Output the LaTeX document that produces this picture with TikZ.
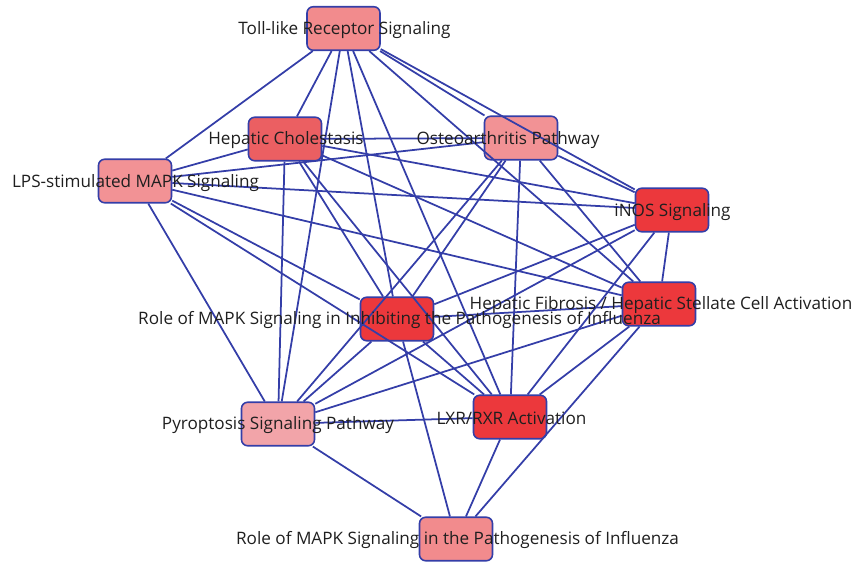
\documentclass[tikz,border=0pt]{standalone}
\usepackage{fontspec}
\setmainfont{Open Sans}

\definecolor{linkblue}{RGB}{52,62,168}
\definecolor{fillpink}{RGB}{242,139,141}
\definecolor{fillrose}{RGB}{242,146,149}
\definecolor{filllight}{RGB}{242,164,169}
\definecolor{fillmid}{RGB}{235,95,98}
\definecolor{fillred}{RGB}{236,56,60}

\begin{document}
\begin{tikzpicture}[x=0.02cm,y=-0.02cm]
		\useasboundingbox (0,0) rectangle (856,562);
		\begin{scope}[every node/.style={draw=linkblue,line width=0.9pt,rounded corners=3.5pt,
				minimum width=1.46cm,minimum height=0.87cm,inner sep=0pt}]
			\node[fill=fillpink]  (TLR) at (343.5,28.5) {};
			\node[fill=fillmid]   (HC)  at (285,139) {};
			\node[fill=fillrose]  (OA)  at (521,138) {};
			\node[fill=fillrose]  (LPS) at (135,181) {};
			\node[fill=fillred]   (NOS) at (672,210) {};
			\node[fill=fillred]   (HF)  at (659,304) {};
			\node[fill=fillred]   (RI)  at (397,319) {};
			\node[fill=filllight] (PY)  at (278,424) {};
			\node[fill=fillred]   (LXR) at (510,417) {};
			\node[fill=fillpink]  (RP)  at (456,539) {};
		\end{scope}
		\begin{scope}[every edge/.style={draw=linkblue,line width=1pt}]
			\path (TLR) edge (HC) edge (OA) edge (LPS) edge (NOS) edge (HF) edge (RI) edge (PY) edge (LXR);
			\path (HC) edge (OA) edge (LPS) edge (NOS) edge (HF) edge (RI) edge (PY) edge (LXR);
			\path (OA) edge (LPS) edge (NOS) edge (HF) edge (RI) edge (PY) edge (LXR);
			\path (LPS) edge (NOS) edge (HF) edge (RI) edge (PY) edge (LXR);
			\path (NOS) edge (HF) edge (RI) edge (PY) edge (LXR);
			\path (HF) edge (RI) edge (PY) edge (LXR) edge (RP);
			\path (RI) edge (PY) edge (LXR) edge (RP);
			\path (PY) edge (LXR) edge (RP);
			\path (LXR) edge (RP);
		\end{scope}
		\begin{scope}[every node/.style={text=black!88,inner sep=0pt,font=\fontsize{9.75}{11}\selectfont}]
			\node (TLRt) at (344.5,30) {Toll-like Receptor Signaling};
			\node (HCt)  at (286,140) {Hepatic Cholestasis};
			\node (OAt)  at (508,140) {Osteoarthritis Pathway};
			\node (LPSt) at (135.5,183) {LPS-stimulated MAPK Signaling};
			\node (NOSt) at (672.5,212) {iNOS Signaling};
			\node (HFt)  at (661,305) {Hepatic Fibrosis / Hepatic Stellate Cell Activation};
			\node (RIt)  at (399.5,320) {Role of MAPK Signaling in Inhibiting the Pathogenesis of Influenza};
			\node (PYt)  at (278,425) {Pyroptosis Signaling Pathway};
			\node (LXRt) at (511.5,418) {LXR/RXR Activation};
			\node (RPt)  at (457.5,540) {Role of MAPK Signaling in the Pathogenesis of Influenza};
		\end{scope}
	\end{tikzpicture}
\end{document}
